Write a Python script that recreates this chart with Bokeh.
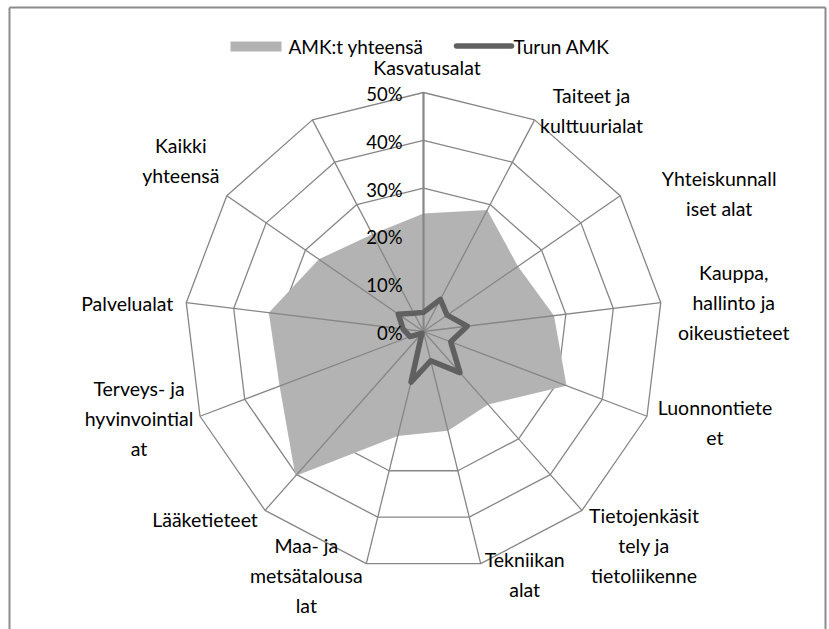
import math
from bokeh.plotting import figure
from bokeh.models import Range1d
from bokeh.core.properties import value
from bokeh.embed import file_html
from bokeh.resources import INLINE

# ---------------- data ----------------
categories = [
    "Kasvatusalat",
    "Taiteet ja\nkulttuurialat",
    "Yhteiskunnall\niset alat",
    "Kauppa,\nhallinto ja\noikeustieteet",
    "Luonnontiete\net",
    "Tietojenkäsit\ntely ja\ntietoliikenne",
    "Tekniikan\nalat",
    "Maa- ja\nmetsätalousa\nlat",
    "Lääketieteet",
    "Terveys- ja\nhyvinvointial\nat",
    "Palvelualat",
    "Kaikki\nyhteensä",
    "",
]
amk_total = [24.7, 28.7, 24.0, 27.5, 32.0, 20.4, 21.4, 22.5, 40.4, 32.2, 32.6, 26.6, 23.0]
turun_amk = [4.0, 7.6, 6.0, 9.2, 6.1, 11.5, 6.3, 10.9, 0.5, 3.0, 4.3, 6.4, 4.3]
tick_values = [0, 10, 20, 30, 40, 50]
tick_labels = ["0%", "10%", "20%", "30%", "40%", "50%"]
series_names = ["AMK:t yhteensä", "Turun AMK"]

# ---------------- layout / style ----------------
W, H = 829, 629
CX, CY = 423.0, 331.0          # canvas coords of the radar centre
R_MAX = 239.0                   # pixels for the max value
V_MAX = 50.0
FONT = value("Lato")
GRID = "#868686"
FILL = "#b3b3b3"
DARK = "#606060"
label_offsets = [(3.5, -25), (57, -9), (99, -2), (73, 0), (68, 6), (62, 35),
                 (44, 11), (-60, 12), (-60, 9), (-61, 2), (-59, 1), (-46, -35), (0, 0)]

n = len(categories)
angles = [2 * math.pi * i / n for i in range(n)]


def polar(v, a):
    r = v / V_MAX * R_MAX
    return CX + r * math.sin(a), CY - r * math.cos(a)


p = figure(width=W, height=H, output_backend="svg", toolbar_location=None,
           x_range=Range1d(0, W), y_range=Range1d(H, 0),
           min_border=0, outline_line_color=None)
p.axis.visible = False
p.grid.visible = False
p.background_fill_color = "white"
p.border_fill_color = "white"

# rings
ring_xs, ring_ys = [], []
for tv in tick_values[1:]:
    pts = [polar(tv, a) for a in angles]
    ring_xs.append([q[0] for q in pts])
    ring_ys.append([q[1] for q in pts])
p.patches(ring_xs, ring_ys, fill_color=None, line_color=GRID, line_width=1.3)

# filled series
pts = [polar(v, a) for v, a in zip(amk_total, angles)]
p.patch([q[0] for q in pts], [q[1] for q in pts], fill_color=FILL, line_color=None)

# spokes
outer = [polar(V_MAX, a) for a in angles]
p.segment(x0=[CX] * n, y0=[CY] * n, x1=[q[0] for q in outer], y1=[q[1] for q in outer],
          line_color=GRID, line_width=[2.2] + [1.3] * (n - 1))

# line series
pts = [polar(v, a) for v, a in zip(turun_amk, angles)]
p.patch([q[0] for q in pts], [q[1] for q in pts], fill_color=None, line_color=DARK,
        line_width=5.5, line_join="round")

# value tick labels
p.text(x=[CX - 21] * len(tick_values), y=[polar(tv, 0)[1] + 1.5 for tv in tick_values],
       text=tick_labels, text_font=FONT, text_font_size=value("18.5px"),
       text_align="right", text_baseline="middle", text_color="black")

# category labels
lx = [outer[i][0] + label_offsets[i][0] for i in range(n)]
ly = [outer[i][1] + label_offsets[i][1] for i in range(n)]
p.text(x=lx, y=ly, text=categories, text_font=FONT, text_font_size=value("19.5px"),
       text_align="center", text_baseline="middle", text_color="black",
       text_line_height=1.3)

# legend
p.quad(left=[230], right=[281], top=[41], bottom=[51], fill_color=FILL, line_color=None)
p.line([456, 511], [45.5, 45.5], line_color=DARK, line_width=5.5, line_cap="round")
p.text(x=[288, 513], y=[46, 46], text=series_names, text_font=FONT,
       text_font_size=value("19px"), text_align="left", text_baseline="middle",
       text_color="black")

# chart frame (left, top, right)
p.multi_line([[9, 9], [9, 825], [825, 825]], [[H, 7], [7, 7], [7, H]],
             line_color="#8c8c8c", line_width=2)

open("out.html", "w").write(file_html(p, INLINE))
